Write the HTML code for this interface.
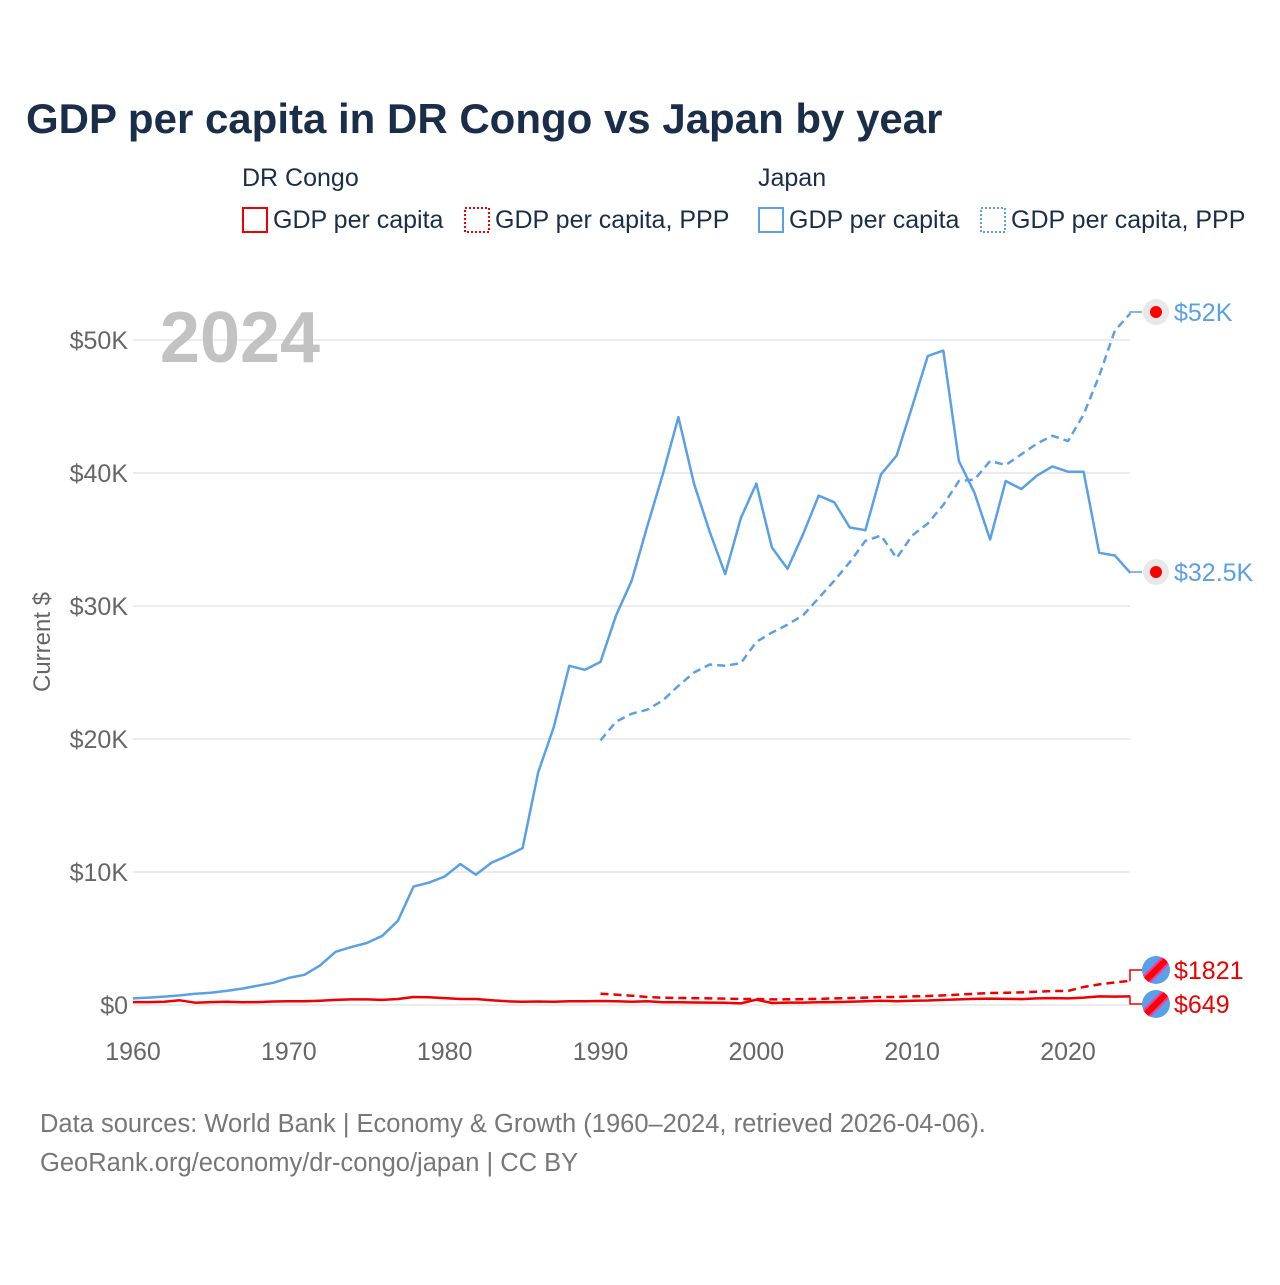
<!DOCTYPE html>
<html><head><meta charset="utf-8"><style>
body{margin:0;background:#fff;font-family:"Liberation Sans",sans-serif}
svg text{font-family:"Liberation Sans",sans-serif}
</style></head><body>
<svg id="c" width="1280" height="1280" viewBox="0 0 1280 1280">
<text x="26" y="133" font-size="42" font-weight="bold" fill="#1a2e4a">GDP per capita in DR Congo vs Japan by year</text>
<g font-size="25" fill="#1a2e4a">
<text x="242" y="186">DR Congo</text>
<text x="758" y="186">Japan</text>
<g><rect x="243" y="208" width="24" height="24" fill="none" stroke="#e00" stroke-width="2"/><text x="273" y="228">GDP per capita</text></g>
<g><rect x="465" y="208" width="24" height="24" fill="none" stroke="#e00" stroke-width="2" stroke-dasharray="2,2"/><text x="495" y="228">GDP per capita, PPP</text></g>
<g><rect x="759" y="208" width="24" height="24" fill="none" stroke="#5aa0e6" stroke-width="2"/><text x="789" y="228">GDP per capita</text></g>
<g><rect x="981" y="208" width="24" height="24" fill="none" stroke="#5aa0e6" stroke-width="2" stroke-dasharray="2,2"/><text x="1011" y="228">GDP per capita, PPP</text></g>
</g>
<g id="grid"></g>
<g id="yt" font-size="25" fill="#666" text-anchor="end"></g>
<g id="xt" font-size="25" fill="#666" text-anchor="middle"></g>
<text x="240" y="362" font-size="72" font-weight="bold" fill="#c2c2c2" text-anchor="middle">2024</text>
<text transform="translate(50,642) rotate(-90)" font-size="24" fill="#666" text-anchor="middle">Current $</text>
<g id="lines"></g>
<g id="ends"></g>
<text x="40" y="1132" font-size="25.5" fill="#777">Data sources: World Bank | Economy &amp; Growth (1960–2024, retrieved 2026-04-06).</text>
<text x="40" y="1171" font-size="25.5" fill="#777">GeoRank.org/economy/dr-congo/japan | CC BY</text>
</svg>
<script>
const yTicks=[0,10,20,30,40,50];
const yTickLabels=["$0","$10K","$20K","$30K","$40K","$50K"];
const xTicks=[1960,1970,1980,1990,2000,2010,2020];
const japanGdp=[0.5,0.56,0.63,0.72,0.84,0.92,1.06,1.23,1.45,1.67,2.04,2.27,2.97,4.0,4.35,4.66,5.2,6.33,8.9,9.2,9.66,10.6,9.8,10.7,11.2,11.8,17.5,20.9,25.5,25.2,25.8,29.3,31.9,36.0,39.9,44.2,39.2,35.6,32.4,36.6,39.2,34.4,32.8,35.4,38.3,37.8,35.9,35.7,39.9,41.3,45.0,48.8,49.2,40.9,38.5,35.0,39.4,38.8,39.8,40.5,40.1,40.1,34.0,33.8,32.5];
const japanPpp=[19.9,21.3,21.9,22.2,22.9,24.0,25.0,25.6,25.5,25.7,27.3,28.0,28.6,29.3,30.6,31.9,33.3,34.9,35.3,33.6,35.3,36.2,37.6,39.4,39.5,40.9,40.6,41.4,42.2,42.8,42.4,44.4,47.3,50.7,52.0];
const drcGdp=[0.22,0.22,0.25,0.35,0.17,0.22,0.24,0.2,0.22,0.26,0.28,0.28,0.32,0.38,0.42,0.42,0.38,0.45,0.6,0.58,0.52,0.45,0.45,0.35,0.28,0.25,0.26,0.25,0.28,0.28,0.3,0.28,0.25,0.28,0.2,0.2,0.19,0.18,0.17,0.12,0.4,0.15,0.18,0.18,0.2,0.22,0.25,0.28,0.32,0.28,0.32,0.34,0.38,0.42,0.46,0.48,0.46,0.44,0.5,0.52,0.5,0.56,0.65,0.63,0.649];
const drcPpp=[0.85,0.78,0.7,0.6,0.55,0.53,0.52,0.5,0.48,0.45,0.45,0.42,0.43,0.44,0.46,0.5,0.53,0.56,0.6,0.6,0.65,0.68,0.72,0.78,0.85,0.9,0.92,0.95,1.0,1.05,1.05,1.35,1.55,1.7,1.821];
const X=y=>133+(y-1960)*(1068-133)/60;
const Y=v=>1005-v*13.3;
const NS="http://www.w3.org/2000/svg";
function mk(t,a,p){const e=document.createElementNS(NS,t);for(const k in a)e.setAttribute(k,a[k]);p.appendChild(e);return e;}
const grid=document.getElementById('grid'),yt=document.getElementById('yt'),xt=document.getElementById('xt');
yTicks.forEach((v,i)=>{
 const l=mk('line',{x1:133,x2:1130,y1:Y(v*1),y2:Y(v*1),stroke:'#e6e6e6','stroke-width':1.5},grid);
 
 
 const t=mk('text',{x:128,y:Y(v)+9},yt);t.textContent=yTickLabels[i];
 
 
});
xTicks.forEach(v=>{const t=mk('text',{x:X(v),y:1060},xt);t.textContent=v;
 
 });
const lines=document.getElementById('lines');
function line(arr,start,color,dash,name){
 const d=arr.map((v,i)=>(i?'L':'M')+X(start+i).toFixed(1)+','+Y(v).toFixed(1)).join('');
 const p=mk('path',{d,fill:'none',stroke:color,'stroke-width':2.5,'stroke-dasharray':dash,'stroke-linejoin':'round'},lines);
 
 
}
line(japanGdp,1960,'#5aa0e6','none','japan-gdp-line');
line(japanPpp,1990,'#5aa0e6','8,5','japan-ppp-line');
line(drcGdp,1960,'#e00','none','drc-gdp-line');
line(drcPpp,1990,'#e00','8,5','drc-ppp-line');
const ends=document.getElementById('ends');
function endLabel(v,ly,color,txt,flag,name){
 const x0=X(2024),cx=1156;
 const p=mk('path',{d:`M${x0},${Y(v)}H1130V${ly}H${cx-14}`,fill:'none',stroke:color,'stroke-width':1.5},ends);
 
 
 const g=mk('g',{},ends);
 
 
 if(flag){
  mk('circle',{cx,cy:ly,r:14,fill:'#5aa0e6'},g);
  const cp=mk('clipPath',{id:'cl'+name},g);mk('circle',{cx,cy:ly,r:14},cp);
  mk('line',{x1:cx-16,y1:ly+16,x2:cx+16,y2:ly-16,stroke:'#f39',"stroke-width":10,'clip-path':`url(#cl${name})`},g);
  mk('line',{x1:cx-16,y1:ly+16,x2:cx+16,y2:ly-16,stroke:'#f00','stroke-width':6,'clip-path':`url(#cl${name})`},g);
 }else{
  mk('circle',{cx,cy:ly,r:13,fill:'#e8e8e8'},g);
  mk('circle',{cx,cy:ly,r:6,fill:'#f00'},g);
 }
 const t=mk('text',{x:1174,y:ly+9,'font-size':25,fill:color},ends);t.textContent=txt;
 
 
}
endLabel(japanPpp[japanPpp.length-1],312,'#5aa0e6','$52K',false,'japan-ppp-end');
endLabel(japanGdp[japanGdp.length-1],572,'#5aa0e6','$32.5K',false,'japan-gdp-end');
endLabel(drcPpp[drcPpp.length-1],970,'#e00','$1821',true,'drc-ppp-end');
endLabel(drcGdp[drcGdp.length-1],1004,'#e00','$649',true,'drc-gdp-end');
</script>
</body></html>
